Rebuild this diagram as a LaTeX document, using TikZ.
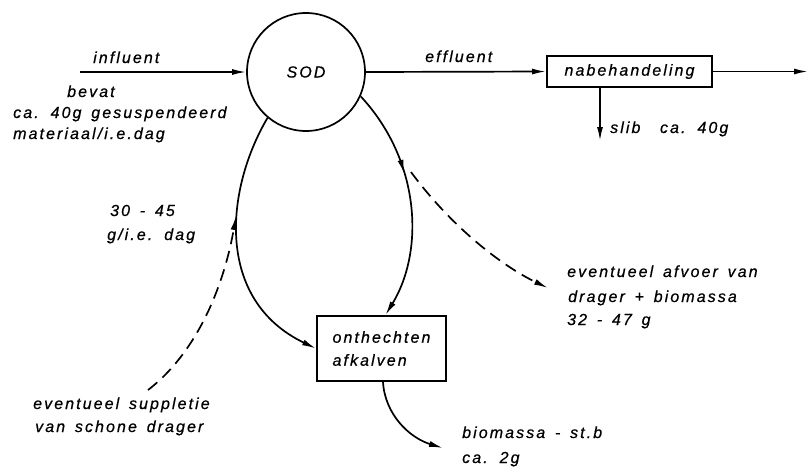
\documentclass[tikz,border=0pt]{standalone}
\usepackage{fontspec}
\setmainfont{Liberation Sans}[LetterSpace=13, WordSpace=1.5, FakeBold=0.6]
\usetikzlibrary{arrows.meta,decorations.markings}
\begin{document}
\begin{tikzpicture}[x=1pt,y=-1pt,
  every node/.style={font=\fontsize{16}{23}\selectfont\itshape},
  lbl/.style={anchor=base west,inner sep=0pt},
  tip/.style={-{Latex[length=14pt,width=6pt]}},
  flow/.style={line width=1.7pt,tip},
  dashflow/.style={line width=1.7pt,tip,dash pattern=on 12pt off 7pt},
  boxnode/.style={draw,line width=2pt,inner sep=0pt},
  midtip/.style={postaction={decorate},decoration={markings,
     mark=at position #1 with {\arrow{Latex[length=14pt,width=6pt]}}}}
]
\useasboundingbox (0,0) rectangle (809,467);

% nodes
\node[circle,draw,line width=1.7pt,minimum size=118pt,inner sep=0pt] (sod) at (306,72) {SOD};
\node[boxnode,minimum width=165pt,minimum height=31pt] (nab) at (629.5,71.5) {nabehandeling};
\node[boxnode,minimum width=129pt,minimum height=65pt,align=left] (ont) at (381.5,348.5) {onthechten\\afkalven};

% labels
\node[lbl] (tinf) at (93,63) {influent};
\node[lbl] (tbev) at (67,97) {bevat};
\node[lbl] (tca) at (13,118) {ca. 40g gesuspendeerd};
\node[lbl] (tmat) at (13,139) {materiaal/i.e.dag};
\node[lbl] (teff) at (425,62) {effluent};
\node[lbl] (tslib) at (610,133) {slib\ \ ca. 40g};
\node[lbl] (t30) at (110,216) {30 - 45};
\node[lbl] (tgie) at (107,240) {g/i.e. dag};
\node[lbl] (taf1) at (567,277) {eventueel afvoer van};
\node[lbl] (taf2) at (568,302) {drager + biomassa};
\node[lbl] (taf3) at (567,325) {32 - 47 g};
\node[lbl] (tsup1) at (33,409) {eventueel suppletie};
\node[lbl] (tsup2) at (35,432) {van schone drager};
\node[lbl] (tbio1) at (462,438) {biomassa - st.b};
\node[lbl] (tbio2) at (462,463) {ca. 2g};

% free ends
\coordinate (inl) at (80,72);
\coordinate (outl) at (808,71.5);
\coordinate (slibend) at (600,141);
\coordinate (rc) at (411,172);
\coordinate (lc) at (236,216);
\coordinate (afend) at (548,288);
\coordinate (supstart) at (148,390);
\coordinate (bioend) at (443,448);

% connectors
\draw[flow] (inl) -- (sod.west);
\draw[flow] (sod.east) -- (nab.west);
\draw[flow] (nab.east) -- (outl);
\draw[flow] (nab.south -| slibend) -- (slibend);
\draw[flow,midtip=0.38] (sod.-24) .. controls (420,160) and (425,250) .. ([xshift=4pt]ont.north);
\draw[flow] (sod.-130) .. controls (225,190) and (215,300) .. (ont.west);
\draw[flow] ([xshift=1.5pt]ont.south) .. controls (385,415) and (410,438) .. (bioend);
\draw[dashflow] (rc) .. controls (450,225) and (500,265) .. (afend);
\draw[dashflow] (supstart) .. controls (200,350) and (225,280) .. (lc);
\end{tikzpicture}
\end{document}
